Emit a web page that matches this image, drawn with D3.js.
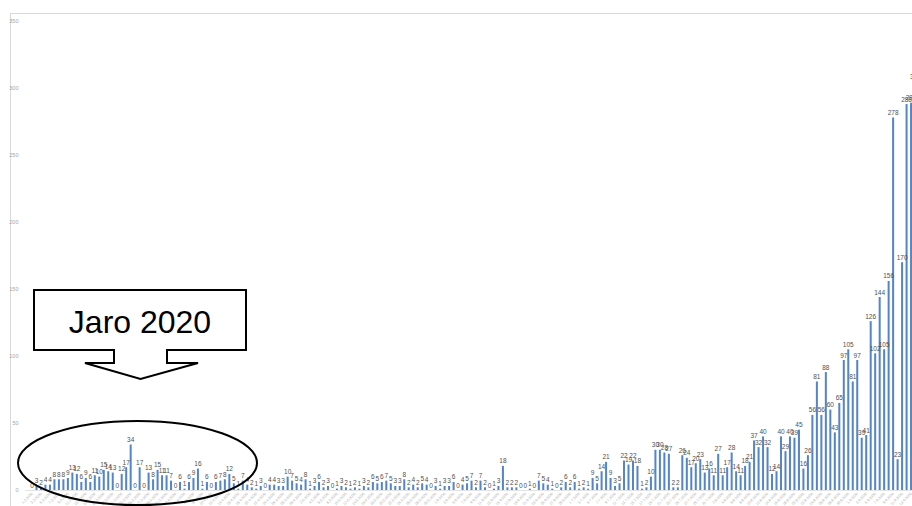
<!DOCTYPE html>
<html>
<head>
<meta charset="utf-8">
<script src="https://cdn.jsdelivr.net/npm/d3@7"></script>
<style>
  body { margin: 0; background: #fff; }
  svg { display: block; font-family: "Liberation Sans", Arial, sans-serif; }
</style>
</head>
<body>
<div id="chart"></div>
<script>
// daily values
const values = [
  0, 3, 2, 4, 4, 8, 8, 8, 9, 13, 12, 6, 9, 6, 11, 10, 15, 14, 13, 0,
  12, 17, 34, 0, 17, 0, 13, 8, 15, 11, 11, 7, 0, 6, 1, 6, 9, 16, 1, 6,
  0, 6, 7, 8, 12, 5, 1, 7, 4, 2, 1, 3, 0, 4, 4, 3, 3, 10, 7, 5,
  4, 8, 1, 3, 6, 2, 3, 0, 1, 3, 2, 1, 2, 1, 3, 2, 6, 5, 6, 7,
  5, 3, 3, 8, 2, 4, 2, 5, 4, 0, 3, 1, 3, 3, 6, 0, 4, 5, 7, 2,
  7, 2, 0, 1, 3, 18, 2, 2, 2, 0, 0, 1, 0, 7, 5, 4, 1, 0, 2, 6,
  2, 6, 1, 2, 1, 9, 5, 14, 21, 9, 3, 5, 22, 19, 22, 18, 1, 2, 10, 30,
  30, 28, 27, 2, 2, 26, 24, 17, 20, 23, 13, 16, 11, 27, 11, 17, 28, 14, 11, 18,
  21, 37, 32, 40, 32, 12, 14, 40, 29, 40, 39, 45, 16, 26, 56, 81, 56, 88, 60, 43,
  65, 97, 105, 81, 97, 39, 41, 126, 102, 144, 105, 156, 278, 23, 170, 288, 289, 305
];
const startDate = new Date(2020, 2, 1);
const yTicks = [0, 50, 100, 150, 200, 250, 300, 350];
const calloutText = "Jaro 2020";

const width = 912, height = 506;
const fmt = d3.timeFormat("%-d.%-m.%Y");
const days = values.map((v, i) => fmt(d3.timeDay.offset(startDate, i)));

const svg = d3.select("#chart").append("svg")
  .attr("width", width)
  .attr("height", height);

// chart area border (runs off the cropped edges)
svg.append("rect")
  .attr("x", 10.5).attr("y", 13.5)
  .attr("width", 1000).attr("height", 1000)
  .attr("fill", "none")
  .attr("stroke", "#d9d9d9");

const step = 4.485;
const x = d3.scaleBand()
  .domain(d3.range(values.length))
  .range([32 - step / 2, 32 - step / 2 + step * values.length])
  .paddingInner(0.55)
  .paddingOuter(0.275);

const y = d3.scaleLinear().domain([0, 350]).range([490, 21]);

// y axis labels
svg.append("g").selectAll("text")
  .data(yTicks)
  .join("text")
  .attr("x", 18.5)
  .attr("y", d => y(d) + 2)
  .attr("text-anchor", "end")
  .attr("font-size", 5.5)
  .attr("fill", "#a6a6a6")
  .text(d => d);

// baseline
svg.append("line")
  .attr("x1", 25).attr("x2", width)
  .attr("y1", y(0) + 0.5).attr("y2", y(0) + 0.5)
  .attr("stroke", "#e3e3e3");

// bars
svg.append("g").selectAll("rect")
  .data(values)
  .join("rect")
  .attr("x", (d, i) => x(i))
  .attr("y", d => y(d))
  .attr("width", x.bandwidth())
  .attr("height", d => y(0) - y(d))
  .attr("fill", "#5585c8");

// value labels
svg.append("g").selectAll("text")
  .data(values)
  .join("text")
  .attr("x", (d, i) => x(i) + x.bandwidth() / 2)
  .attr("y", d => y(d) - 2.5)
  .attr("text-anchor", "middle")
  .attr("font-size", 6.5)
  .attr("fill", "#505050")
  .text(d => d);

// rotated date labels, every second day
svg.append("g").selectAll("text")
  .data(days.filter((d, i) => i % 2 === 0))
  .join("text")
  .attr("transform", (d, i) => `translate(${x(i * 2) + x.bandwidth() / 2 + 1},${y(0) + 4}) rotate(-45)`)
  .attr("text-anchor", "end")
  .attr("font-size", 3.6)
  .attr("fill", "#a6a6a6")
  .text(d => d);

// ellipse around spring
svg.append("ellipse")
  .attr("cx", 137.5).attr("cy", 463)
  .attr("rx", 119.5).attr("ry", 42)
  .attr("fill", "none")
  .attr("stroke", "#000")
  .attr("stroke-width", 2);

// callout box with arrow
const callout = [
  [34, 290], [246, 290], [246, 350], [167, 350], [167, 363], [198, 363],
  [140.5, 379], [85, 363], [114, 363], [114, 350], [34, 350]
];
svg.append("path")
  .attr("d", d3.line()(callout) + "Z")
  .attr("fill", "#fff")
  .attr("stroke", "#000")
  .attr("stroke-width", 2);

svg.append("text")
  .attr("x", 140)
  .attr("y", 333)
  .attr("text-anchor", "middle")
  .attr("font-size", 32)
  .attr("fill", "#000")
  .text(calloutText);
</script>
</body>
</html>
